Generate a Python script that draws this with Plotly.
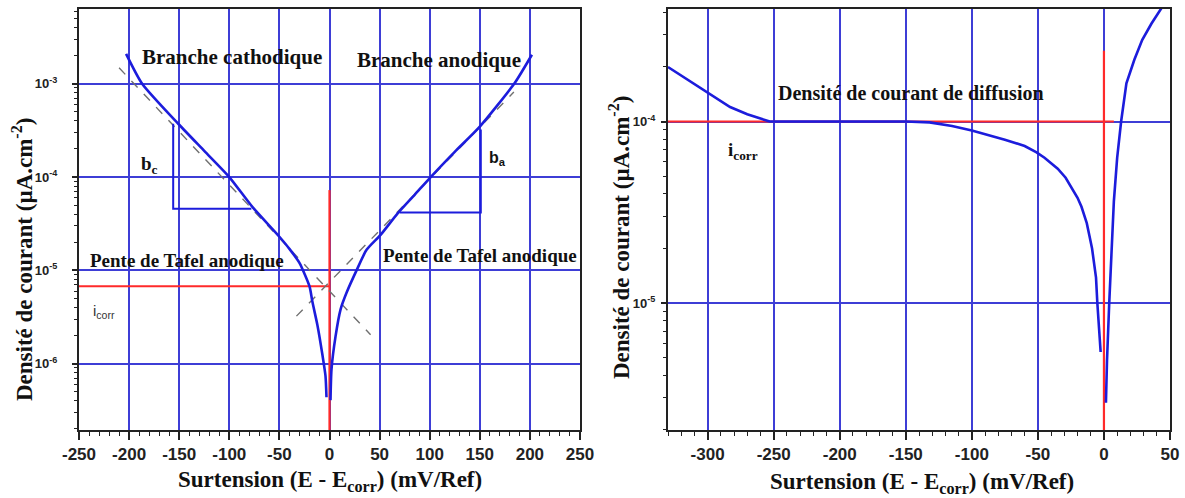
import plotly.graph_objects as go

# ---------------- data (left panel) ----------------
cath_x = [-203, -187, -150, -125, -100, -77, -50, -40, -30, -20, -17, -12, -7, -4, -3]
cath_logi = [-2.68, -3.0, -3.44, -3.72, -4.0, -4.32, -4.64, -4.77, -4.92, -5.17, -5.34, -5.59, -5.91, -6.13, -6.36]
anod_x = [1, 2, 6, 11, 17, 27, 37, 51, 68, 85, 101, 125, 150, 185, 202]
anod_logi = [-6.39, -6.06, -5.71, -5.42, -5.24, -5.0, -4.78, -4.62, -4.39, -4.19, -4.0, -3.73, -3.46, -2.99, -2.69]

tafel_c_x = [-210, 41]
tafel_c_logi = [-2.83, -5.69]
tafel_a_x = [-33, 184]
tafel_a_logi = [-5.49, -3.09]

tri_c_x = [-156, -156, -78]
tri_c_logi = [-3.43, -4.34, -4.34]
tri_a_x = [151, 151, 70]
tri_a_logi = [-3.49, -4.38, -4.38]

icorr_h_x = [-250, 0]
icorr_h_logi = [-5.17, -5.17]
ecorr_v_x = [0, 0]
ecorr_v_logi = [-4.14, -6.71]

# ---------------- data (right panel) ----------------
r_cath_x = [-330, -315, -300, -283, -270, -253, -200, -150, -132, -115, -100, -75, -60, -51, -45, -40,
            -35, -29, -24, -20, -17, -13, -11, -9, -6, -5, -2.5]
r_cath_logi = [-3.70, -3.77, -3.84, -3.92, -3.96, -4.0, -4.0, -4.0, -4.005, -4.025, -4.05, -4.1, -4.135,
               -4.17, -4.2, -4.23, -4.26, -4.31, -4.37, -4.42, -4.47, -4.56, -4.63, -4.70, -4.86, -5.0, -5.27]
r_anod_x = [1.5, 2.3, 4, 6, 7.5, 10, 13, 17, 23, 29, 36, 44]
r_anod_logi = [-5.55, -5.32, -5.0, -4.66, -4.44, -4.2, -4.0, -3.79, -3.66, -3.55, -3.46, -3.37]

r_ilim_x = [-330, 7.5]
r_ilim_logi = [-4.0, -4.0]
r_ecorr_x = [0, 0]
r_ecorr_logi = [-3.61, -5.70]

left_xticks = [-250, -200, -150, -100, -50, 0, 50, 100, 150, 200, 250]
right_xticks = [-300, -250, -200, -150, -100, -50, 0, 50]
left_yticks_exp = [-6, -5, -4, -3]
right_yticks_exp = [-5, -4]


def p10(v):
    return [10 ** a for a in v]


BLUE = "#1c1cdc"
GRID = "#3e3ed6"
RED = "#ff2a2a"

fig = go.Figure()

# Left panel
fig.add_trace(go.Scatter(x=icorr_h_x, y=p10(icorr_h_logi), mode="lines",
                         line=dict(color=RED, width=2.2), xaxis="x", yaxis="y"))
fig.add_trace(go.Scatter(x=ecorr_v_x, y=p10(ecorr_v_logi), mode="lines",
                         line=dict(color=RED, width=2.2), xaxis="x", yaxis="y"))
fig.add_trace(go.Scatter(x=tafel_c_x, y=p10(tafel_c_logi), mode="lines",
                         line=dict(color="#707070", width=1.4, dash="dash"), xaxis="x", yaxis="y"))
fig.add_trace(go.Scatter(x=tafel_a_x, y=p10(tafel_a_logi), mode="lines",
                         line=dict(color="#707070", width=1.4, dash="dash"), xaxis="x", yaxis="y"))
fig.add_trace(go.Scatter(x=tri_c_x, y=p10(tri_c_logi), mode="lines",
                         line=dict(color=BLUE, width=2), xaxis="x", yaxis="y"))
fig.add_trace(go.Scatter(x=tri_a_x, y=p10(tri_a_logi), mode="lines",
                         line=dict(color=BLUE, width=2), xaxis="x", yaxis="y"))
fig.add_trace(go.Scatter(x=cath_x, y=p10(cath_logi), mode="lines",
                         line=dict(color=BLUE, width=2.6, shape="spline", smoothing=0.6), xaxis="x", yaxis="y"))
fig.add_trace(go.Scatter(x=anod_x, y=p10(anod_logi), mode="lines",
                         line=dict(color=BLUE, width=2.6, shape="spline", smoothing=0.6), xaxis="x", yaxis="y"))

# Right panel
fig.add_trace(go.Scatter(x=r_ilim_x, y=p10(r_ilim_logi), mode="lines",
                         line=dict(color=RED, width=2.2), xaxis="x2", yaxis="y2"))
fig.add_trace(go.Scatter(x=r_ecorr_x, y=p10(r_ecorr_logi), mode="lines",
                         line=dict(color=RED, width=2.2), xaxis="x2", yaxis="y2"))
fig.add_trace(go.Scatter(x=r_cath_x, y=p10(r_cath_logi), mode="lines",
                         line=dict(color=BLUE, width=2.6), xaxis="x2", yaxis="y2"))
fig.add_trace(go.Scatter(x=r_anod_x, y=p10(r_anod_logi), mode="lines",
                         line=dict(color=BLUE, width=2.6), xaxis="x2", yaxis="y2"))

W, H = 1185, 498
ydom = [1 - 430 / H, 1 - 9 / H]

xfont = dict(family="Liberation Sans, Arial", size=17, color="#222", weight="bold")
yfont = dict(family="Liberation Sans, Arial", size=13, color="#222", weight="bold")


def xax(domain, rng, ticks):
    return dict(domain=domain, range=rng, tickvals=ticks, ticktext=[str(t) for t in ticks],
                ticks="outside", ticklen=8, tickwidth=1.5, tickcolor="#222",
                showline=True, linecolor="#222", linewidth=2, mirror=True,
                showgrid=True, gridcolor=GRID, gridwidth=1.6, zeroline=False,
                tickfont=xfont, automargin=False,
                minor=dict(dtick=10, ticks="outside", ticklen=4, tickwidth=1.2,
                           tickcolor="#222", showgrid=False))


def yax(domain, rng, exps, anchor, standoff):
    return dict(domain=domain, type="log", range=rng, anchor=anchor,
                tickvals=[10 ** e for e in exps],
                ticktext=["10<sup>%d</sup>" % e for e in exps],
                ticks="outside", ticklen=5, tickwidth=1.5, tickcolor="#222",
                showline=True, linecolor="#222", linewidth=2, mirror=True,
                showgrid=True, gridcolor=GRID, gridwidth=1.6, zeroline=False,
                tickfont=yfont, automargin=False, ticklabelstandoff=standoff,
                minor=dict(dtick="D1", ticks="outside", ticklen=3, tickwidth=1,
                           tickcolor="#222", showgrid=False))


fig.update_layout(
    width=W, height=H, margin=dict(l=0, r=0, t=0, b=0),
    paper_bgcolor="white", plot_bgcolor="white", showlegend=False,
    xaxis=xax([79 / W, 580 / W], [-250, 250], left_xticks) | dict(anchor="y"),
    yaxis=yax(ydom, [-6.71, -2.2], left_yticks_exp, "x", 12),
    xaxis2=xax([668 / W, 1170 / W], [-330, 50], right_xticks) | dict(anchor="y2"),
    yaxis2=yax(ydom, [-5.70, -3.38], right_yticks_exp, "x2", 3),
)

SERIF = "Liberation Serif, Times New Roman"
tf = dict(family=SERIF, size=21, color="#111", weight="bold")
pf = dict(family=SERIF, size=19, color="#111", weight="bold")
titlef = dict(family=SERIF, size=23, color="#111", weight="bold")

ann = [
    dict(text="Branche cathodique", x=-97, y=-2.71, xref="x", yref="y", font=tf),
    dict(text="Branche anodique", x=109, y=-2.75, xref="x", yref="y", font=tf),
    dict(text="b<sub>c</sub>", x=-180, y=-3.87, xref="x", yref="y",
         font=dict(family=SERIF, size=19, color="#111", weight="bold")),
    dict(text="b<sub>a</sub>", x=168, y=-3.8, xref="x", yref="y",
         font=dict(family="Liberation Sans, Arial", size=16, color="#111", weight="bold")),
    dict(text="Pente de Tafel anodique", x=-142, y=-4.89, xref="x", yref="y", font=pf),
    dict(text="Pente de Tafel anodique", x=150, y=-4.84, xref="x", yref="y", font=pf),
    dict(text="i<sub>corr</sub>", x=-238, y=-5.44, xref="x", yref="y", xanchor="left",
         font=dict(family="Liberation Sans, Arial", size=15, color="#333")),
    dict(text="Densité de courant de diffusion", x=-146, y=-3.845, xref="x2", yref="y2",
         font=dict(family=SERIF, size=20, color="#111", weight="bold")),
    dict(text="i<sub>corr</sub>", x=-286, y=-4.16, xref="x2", yref="y2", xanchor="left",
         font=dict(family=SERIF, size=19, color="#111", weight="bold")),
    # axis titles
    dict(text="Surtension (E - E<sub>corr</sub>) (mV/Ref)", x=330 / W, y=1 - 481 / H,
         xref="paper", yref="paper", xanchor="center", yanchor="middle", font=titlef),
    dict(text="Surtension (E - E<sub>corr</sub>) (mV/Ref)", x=922 / W, y=1 - 483 / H,
         xref="paper", yref="paper", xanchor="center", yanchor="middle", font=titlef),
    dict(text="Densité de courant (µA.cm<sup>-2</sup>)", x=22 / W, y=1 - 260 / H, textangle=-90,
         xref="paper", yref="paper", xanchor="center", yanchor="middle", font=titlef),
    dict(text="Densité de courant (µA.cm<sup>-2</sup>)", x=620 / W, y=1 - 238 / H, textangle=-90,
         xref="paper", yref="paper", xanchor="center", yanchor="middle", font=titlef),
]
for a in ann:
    a.setdefault("showarrow", False)
fig.update_layout(annotations=ann)

fig.write_html("out.html")
